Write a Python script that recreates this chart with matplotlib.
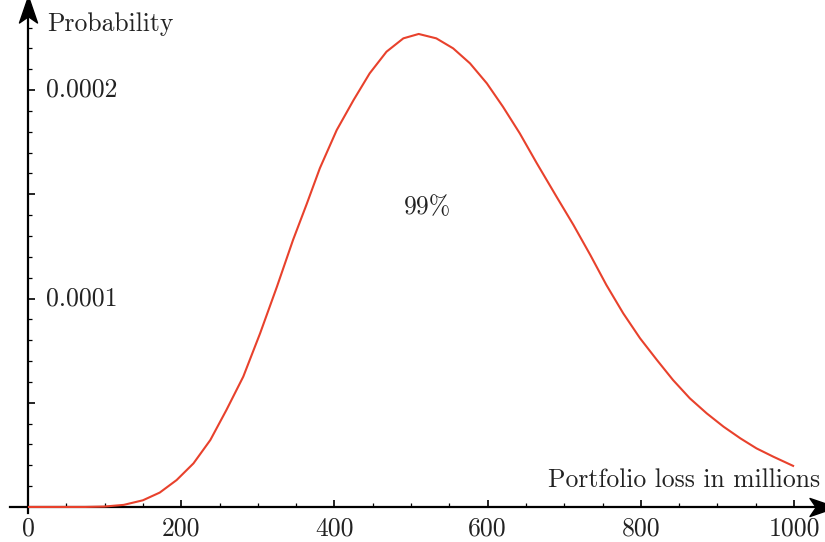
import matplotlib
matplotlib.use("Agg")
import matplotlib.pyplot as plt
from matplotlib.path import Path
import numpy as np

# ---- data ----
loss = [0, 25, 50, 75, 100, 125, 150, 172, 194, 216, 238, 259, 281, 303,
        325, 346, 364, 381, 403, 425, 446, 468, 490, 510, 533, 555, 577,
        599, 620, 642, 664, 690, 712, 734, 755, 777, 799, 821, 842, 864,
        886, 908, 930, 951, 973, 1000]
prob_e5 = [0.0, 0.0, 0.0, 0.0, 0.02, 0.1, 0.32, 0.69, 1.29, 2.09, 3.21, 4.65,
           6.25, 8.33, 10.57, 12.81, 14.55, 16.25, 18.08, 19.52, 20.8, 21.84,
           22.48, 22.69, 22.48, 22.0, 21.28, 20.32, 19.2, 17.92, 16.5, 14.88,
           13.53, 12.09, 10.65, 9.29, 8.09, 7.05, 6.09, 5.21, 4.49, 3.85,
           3.29, 2.81, 2.41, 1.95]
prob = [v * 1e-5 for v in prob_e5]

x_ticks = [0, 200, 400, 600, 800, 1000]
x_tick_labels = ["0", "200", "400", "600", "800", "1000"]
y_ticks = [0.00005, 0.0001, 0.00015, 0.0002]
y_tick_labels = ["", "0.0001", "", "0.0002"]

x_label = "Portfolio loss in millions"
y_label = "Probability"
annotation = "99%"

# ---- figure ----
plt.rcParams['font.family'] = ['cmr10', 'DejaVu Serif']
plt.rcParams['axes.unicode_minus'] = False
FS = 18.5

fig = plt.figure(figsize=(8.25, 5.42), dpi=100)
W, H = 825, 542
ax = fig.add_axes([10 / W, (H - 513) / H, (822 - 10) / W, (513 - 10) / H])

ax.plot(loss, prob, color="#E8412C", lw=1.5, solid_joinstyle="round",
        solid_capstyle="butt", zorder=3)

ax.set_xlim(-23.5, 1036.5)
ax.set_ylim(-2.9e-6, 2.384e-4)

for s in ("top", "right"):
    ax.spines[s].set_visible(False)
ax.spines["left"].set_position(("data", 0))
ax.spines["bottom"].set_position(("data", 0))
for s in ("left", "bottom"):
    ax.spines[s].set_linewidth(1.6)
    ax.spines[s].set_color("black")

ax.set_xticks(x_ticks)
ax.set_xticklabels(x_tick_labels)
ax.set_xticks(np.arange(50, 1001, 50), minor=True)
ax.set_yticks(y_ticks)
ax.set_yticklabels(y_tick_labels)
ax.set_yticks(np.arange(1e-5, 2.31e-4, 1e-5), minor=True)

ax.tick_params(axis="both", which="major", direction="in", length=5, width=1.2,
               labelsize=FS, colors="black", labelcolor="#222222")
ax.tick_params(axis="both", which="minor", direction="in", length=2.6, width=0.9)
ax.tick_params(axis="x", which="major", pad=7)
ax.tick_params(axis="y", which="major", pad=-13)
for lbl in ax.get_yticklabels():
    lbl.set_horizontalalignment("left")
    lbl.set_verticalalignment("center")

# arrow heads (stealth style)
verts = [(1.0, 0.0), (-0.9, 0.65), (-0.45, 0.0), (-0.9, -0.65), (1.0, 0.0)]
codes = [Path.MOVETO, Path.LINETO, Path.LINETO, Path.LINETO, Path.CLOSEPOLY]
right_arrow = Path(verts, codes)
up_arrow = Path([(-y, x) for x, y in verts], codes)
ax.plot([1.0], [0], marker=right_arrow, markersize=20, color="black",
        transform=ax.get_yaxis_transform(), clip_on=False, zorder=5)
ax.plot([0], [1.0], marker=up_arrow, markersize=20, color="black",
        transform=ax.get_xaxis_transform(), clip_on=False, zorder=5)

ax.text(24.8, 2.283e-4, y_label, fontsize=FS, ha="left", va="baseline", color="#222222")
ax.text(1034, 9.6e-6, x_label, fontsize=FS, ha="right", va="baseline", color="#222222")
ax.text(521, 1.436e-4, annotation, fontsize=FS, ha="center", va="center", color="#222222")

fig.savefig("out.png", dpi=100)
